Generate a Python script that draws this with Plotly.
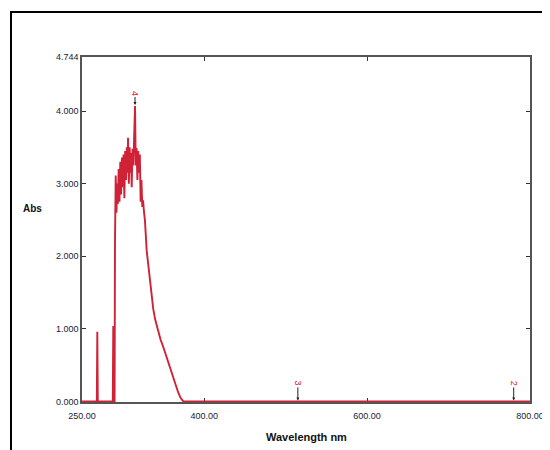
import plotly.graph_objects as go

# Spectrum data (wavelength nm, absorbance)
wavelength = [250, 268.2, 268.8, 269.4, 287.8, 288.4, 289.0, 290.0, 290.5, 291.4, 292.3, 293.2, 294.0,
              295.0, 296.0, 297.0, 298.0, 299.0, 300.0, 301.0, 302.0, 303.0, 304.0, 305.0, 306.0,
              306.5, 307.5, 308.5, 309.5, 310.2, 311.0, 312.0, 313.0, 314.0, 315.1, 316.0, 317.0,
              318.0, 319.0, 320.0, 321.0, 322.0, 323.0, 324.0, 325.0, 326.0, 327.3, 329.4, 331.5,
              333.5, 335.5, 337.5, 340.0, 343.7, 346.5, 349.8, 353.0, 356.0, 359.0, 362.0, 365.0,
              368.2, 371.0, 374.4, 500.0, 800.0]
absorbance = [0.0, 0.0, 0.96, 0.0, 0.0, 1.04, 0.0, 0.0, 2.2, 3.11, 2.6, 3.0, 2.72,
              3.2, 2.75, 3.3, 2.85, 3.36, 2.95, 3.4, 2.8, 3.45, 3.05, 3.5, 3.15,
              3.63, 3.0, 3.5, 3.15, 3.42, 2.95, 3.48, 3.25, 3.55, 4.07, 3.25, 3.49,
              3.05, 3.45, 3.15, 3.4, 2.75, 3.05, 2.68, 2.77, 2.62, 2.49, 2.08, 1.86,
              1.67, 1.46, 1.27, 1.12, 0.95, 0.85, 0.75, 0.64, 0.53, 0.42, 0.30, 0.20,
              0.12, 0.05, 0.0, 0.0, 0.0]

# Peak markers
peak_labels = ["4", "3", "2"]
peak_wl = [315.1, 515.0, 780.0]
peak_abs = [4.07, 0.0, 0.0]
peak_ay = [-13, -18, -18]

x_tickvals = [250, 400, 600, 800]
x_ticktext = ["250.00", "400.00", "600.00", "800.00"]
y_tickvals = [0, 1, 2, 3, 4, 4.744]
y_ticktext = ["0.000", "1.000", "2.000", "3.000", "4.000", "4.744"]

fig = go.Figure()
fig.add_trace(go.Scatter(x=wavelength, y=absorbance, mode="lines",
                         line=dict(color="#cf2236", width=1.9), hoverinfo="skip"))

annotations = []
for lab, wx, wy, ay in zip(peak_labels, peak_wl, peak_abs, peak_ay):
    annotations.append(dict(x=wx, y=wy, xref="x", yref="y", text=lab, textangle=90,
                            font=dict(color="#d42030", size=9, family="Liberation Sans"),
                            showarrow=True, arrowhead=2, arrowsize=0.6, arrowwidth=1,
                            arrowcolor="#222", ax=0, ay=ay, standoff=1))

annotations.append(dict(x=-0.136, y=0.562, xref="paper", yref="paper", text="<b>Abs</b>",
                        showarrow=False, font=dict(size=10, color="#111", family="Liberation Sans")))
annotations.append(dict(x=0.5, y=-0.101, xref="paper", yref="paper", yanchor="middle",
                        text="<b>Wavelength nm</b>",
                        showarrow=False, font=dict(size=11, color="#111", family="Liberation Sans")))

fig.update_layout(
    width=550, height=450,
    margin=dict(l=74, r=28, t=49, b=56),
    paper_bgcolor="white", plot_bgcolor="white",
    showlegend=False,
    annotations=annotations,
    shapes=[dict(type="rect", xref="paper", yref="paper",
                 x0=-0.1585, x1=1.08, y0=-0.2, y1=1.1304,
                 line=dict(color="black", width=2))],
)
fig.update_xaxes(range=[250, 800], tickvals=x_tickvals, ticktext=x_ticktext,
                 showgrid=False, zeroline=False, showline=True, linecolor="#555", linewidth=1.5,
                 mirror="ticks", ticks="inside", ticklen=4, tickcolor="#333",
                 tickfont=dict(size=9, color="#223", family="Liberation Sans"),
                 ticklabelstandoff=4, layer="below traces")
fig.update_yaxes(range=[-0.008, 4.744], tickvals=y_tickvals, ticktext=y_ticktext,
                 showgrid=False, zeroline=False, showline=True, linecolor="#555", linewidth=1.5,
                 mirror="ticks", ticks="inside", ticklen=4, tickcolor="#333",
                 tickfont=dict(size=9, color="#223", family="Liberation Sans"),
                 layer="below traces")

fig.write_html("out.html")
